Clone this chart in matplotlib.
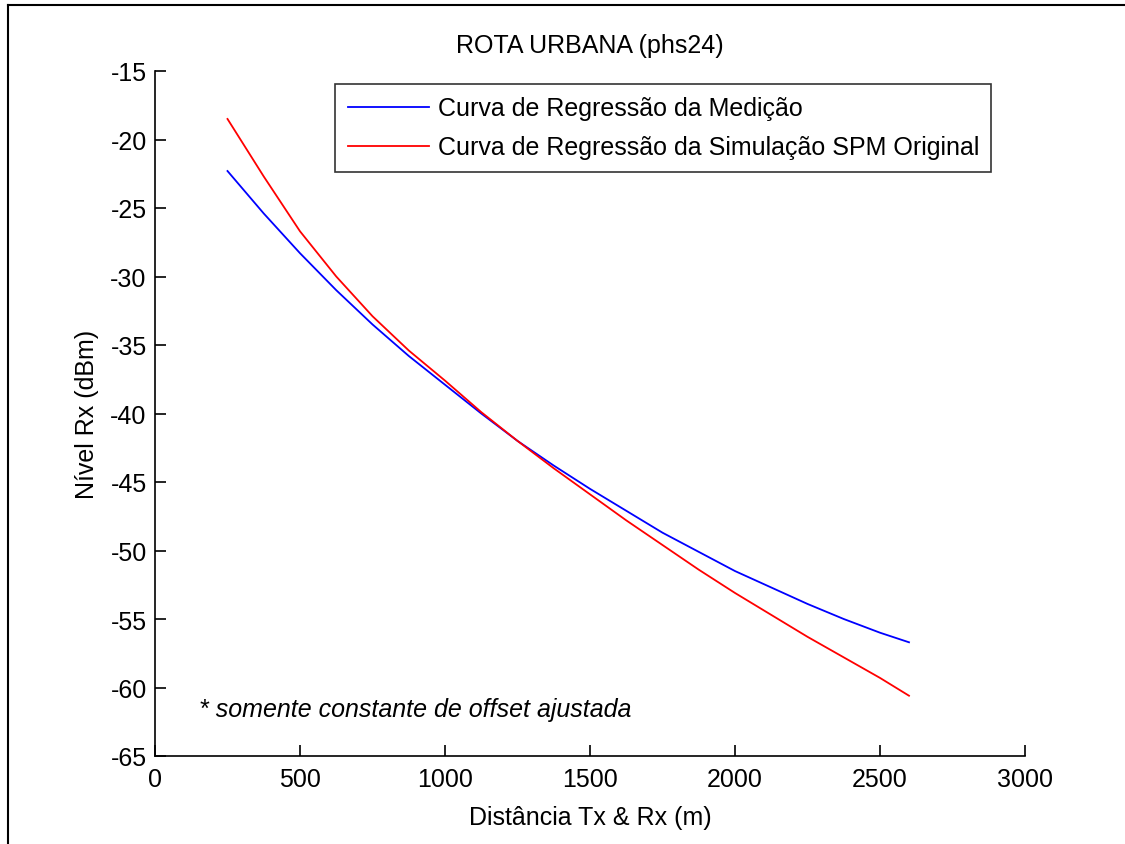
import numpy as np
import matplotlib.pyplot as plt
from matplotlib.lines import Line2D

plt.rcParams['font.family'] = ['Liberation Sans', 'DejaVu Sans']
plt.rcParams['axes.unicode_minus'] = False

# distâncias (m) e curvas de regressão
dist = [250, 375, 500, 625, 750, 875, 1000, 1125, 1250, 1375, 1500,
        1625, 1750, 1875, 2000, 2125, 2250, 2375, 2500, 2600]
medicao = [-22.3, -25.4, -28.3, -31.0, -33.5, -35.8, -37.9, -40.0, -42.0, -43.8, -45.5,
           -47.1, -48.7, -50.1, -51.5, -52.7, -53.9, -55.0, -56.0, -56.7]
simulacao = [-18.5, -22.7, -26.7, -30.0, -32.9, -35.4, -37.6, -39.9, -42.0, -44.0, -45.9,
             -47.8, -49.6, -51.4, -53.1, -54.7, -56.3, -57.8, -59.3, -60.6]

labels = ['Curva de Regressão da Medição',
          'Curva de Regressão da Simulação SPM Original']
xticks = [0, 500, 1000, 1500, 2000, 2500, 3000]
yticks = [-65, -60, -55, -50, -45, -40, -35, -30, -25, -20, -15]

fs = 18
fig = plt.figure(figsize=(11.25, 8.45), dpi=100)
ax = fig.add_axes([155/1125, 1 - 757/845, 870/1125, 685/845])

ax.plot(dist, medicao, color='#0000ff', lw=1.3, label=labels[0])
ax.plot(dist, simulacao, color='#ff0000', lw=1.3, label=labels[1])

ax.set_xlim(0, 3000)
ax.set_ylim(-65, -15)
ax.set_xticks(xticks)
ax.set_yticks(yticks)
ax.tick_params(direction='in', length=8, width=1.2, labelsize=fs, colors='black')
ax.tick_params(axis='x', pad=8)
ax.tick_params(axis='y', pad=6)
for s in ['top', 'right']:
    ax.spines[s].set_visible(False)
for s in ['left', 'bottom']:
    ax.spines[s].set_linewidth(1.2)

ax.set_title('ROTA URBANA (phs24)', fontsize=fs, pad=14)
ax.set_xlabel('Distância Tx & Rx (m)', fontsize=fs, labelpad=10)
ax.set_ylabel('Nível Rx (dBm)', fontsize=fs, labelpad=8)

leg = ax.legend(loc='upper left', bbox_to_anchor=(180/870, 1 - 13/685), fontsize=fs,
                frameon=True, fancybox=False, edgecolor='black', handlelength=3.25,
                handletextpad=0.35, borderpad=0.5, labelspacing=0.6, borderaxespad=0)
leg.get_frame().set_linewidth(1.2)

ax.text(152, -61.6, '* somente constante de offset ajustada', fontsize=fs,
        style='italic', va='center', ha='left')

# moldura externa (só esquerda e topo aparecem)
fig.add_artist(Line2D([8/1125, 8/1125], [0, 1 - 6/845], transform=fig.transFigure,
                      color='black', lw=1.5))
fig.add_artist(Line2D([8/1125, 1], [1 - 6/845, 1 - 6/845], transform=fig.transFigure,
                      color='black', lw=1.5))

fig.savefig('out.png', dpi=100, facecolor='white')
